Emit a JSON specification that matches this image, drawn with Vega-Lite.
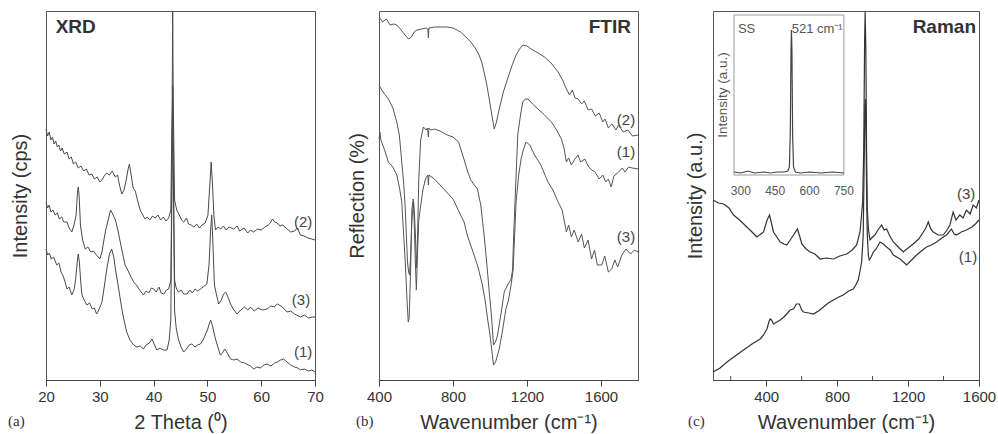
{
  "$schema": "https://vega.github.io/schema/vega-lite/v6.json",
  "padding": {"left": 7, "top": 9, "right": 0, "bottom": 0},
  "background": "white",
  "config": {
    "view": {"stroke": "#555", "strokeWidth": 1},
    "axis": {"labelFont": "Liberation Sans", "titleFont": "Liberation Sans", "labelFontSize": 15, "titleFontSize": 20, "titleFontWeight": "normal", "labelColor": "#333", "titleColor": "#333", "domainColor": "#444", "tickColor": "#444", "grid": false, "labelFlush": false, "labelOverlap": false, "format": "d"},
    "text": {"font": "Liberation Sans", "color": "#333"},
    "line": {"strokeWidth": 1}
  },
  "datasets": {
    "xrd": [
      {"s":"2","x":20.0,"v":251},{"s":"2","x":20.3,"v":244},{"s":"2","x":20.6,"v":248},{"s":"2","x":20.9,"v":240},{"s":"2","x":21.2,"v":243},{"s":"2","x":21.5,"v":236},{"s":"2","x":21.8,"v":239},{"s":"2","x":22.1,"v":233},{"s":"2","x":22.4,"v":235},{"s":"2","x":22.7,"v":229},{"s":"2","x":23.0,"v":232},{"s":"2","x":23.4,"v":226},{"s":"2","x":23.9,"v":228},{"s":"2","x":24.3,"v":221},{"s":"2","x":24.7,"v":223},{"s":"2","x":25.1,"v":216},{"s":"2","x":25.5,"v":218},{"s":"2","x":26.0,"v":212},{"s":"2","x":26.5,"v":214},{"s":"2","x":27.0,"v":209},{"s":"2","x":27.5,"v":211},{"s":"2","x":28.0,"v":205},{"s":"2","x":28.5,"v":206},{"s":"2","x":29.0,"v":201},{"s":"2","x":29.5,"v":203},{"s":"2","x":30.0,"v":198},{"s":"2","x":30.4,"v":200},{"s":"2","x":30.8,"v":204},{"s":"2","x":31.3,"v":207},{"s":"2","x":31.8,"v":205},{"s":"2","x":32.3,"v":209},{"s":"2","x":32.9,"v":203},{"s":"2","x":33.3,"v":205},{"s":"2","x":33.7,"v":194},{"s":"2","x":34.1,"v":186},{"s":"2","x":34.5,"v":190},{"s":"2","x":34.9,"v":200},{"s":"2","x":35.3,"v":212},{"s":"2","x":35.5,"v":216},{"s":"2","x":35.8,"v":206},{"s":"2","x":36.2,"v":192},{"s":"2","x":36.6,"v":189},{"s":"2","x":37.0,"v":180},{"s":"2","x":37.5,"v":170},{"s":"2","x":38.0,"v":165},{"s":"2","x":38.4,"v":161},{"s":"2","x":38.8,"v":163},{"s":"2","x":39.3,"v":160},{"s":"2","x":39.8,"v":164},{"s":"2","x":40.3,"v":162},{"s":"2","x":40.8,"v":165},{"s":"2","x":41.3,"v":160},{"s":"2","x":41.8,"v":163},{"s":"2","x":42.3,"v":159},{"s":"2","x":42.8,"v":162},{"s":"2","x":43.2,"v":170},{"s":"2","x":43.45,"v":280},{"s":"2","x":43.55,"v":368},{"s":"2","x":43.65,"v":280},{"s":"2","x":43.9,"v":180},{"s":"2","x":44.3,"v":170},{"s":"2","x":44.7,"v":166},{"s":"2","x":45.2,"v":160},{"s":"2","x":45.6,"v":158},{"s":"2","x":46.1,"v":162},{"s":"2","x":46.5,"v":156},{"s":"2","x":47.0,"v":155},{"s":"2","x":47.5,"v":153},{"s":"2","x":48.0,"v":156},{"s":"2","x":48.5,"v":152},{"s":"2","x":49.0,"v":155},{"s":"2","x":49.6,"v":157},{"s":"2","x":50.1,"v":165},{"s":"2","x":50.45,"v":195},{"s":"2","x":50.7,"v":218},{"s":"2","x":50.95,"v":195},{"s":"2","x":51.2,"v":165},{"s":"2","x":51.5,"v":150},{"s":"2","x":52.0,"v":153},{"s":"2","x":52.5,"v":151},{"s":"2","x":53.0,"v":154},{"s":"2","x":53.5,"v":150},{"s":"2","x":54.0,"v":153},{"s":"2","x":54.9,"v":151},{"s":"2","x":55.5,"v":154},{"s":"2","x":56.0,"v":149},{"s":"2","x":56.8,"v":152},{"s":"2","x":57.5,"v":147},{"s":"2","x":58.0,"v":150},{"s":"2","x":58.6,"v":148},{"s":"2","x":59.3,"v":151},{"s":"2","x":60.0,"v":150},{"s":"2","x":60.7,"v":153},{"s":"2","x":61.3,"v":155},{"s":"2","x":61.7,"v":157},{"s":"2","x":62.1,"v":161},{"s":"2","x":62.5,"v":158},{"s":"2","x":63.0,"v":157},{"s":"2","x":63.5,"v":154},{"s":"2","x":64.0,"v":155},{"s":"2","x":64.8,"v":151},{"s":"2","x":65.5,"v":148},{"s":"2","x":66.2,"v":149},{"s":"2","x":66.7,"v":152},{"s":"2","x":67.3,"v":145},{"s":"2","x":68.0,"v":144},{"s":"2","x":68.7,"v":142},{"s":"2","x":69.4,"v":141},{"s":"2","x":70.0,"v":140},
      {"s":"3","x":20.0,"v":178},{"s":"3","x":20.3,"v":172},{"s":"3","x":20.6,"v":175},{"s":"3","x":20.9,"v":168},{"s":"3","x":21.3,"v":170},{"s":"3","x":21.7,"v":165},{"s":"3","x":22.1,"v":167},{"s":"3","x":22.5,"v":161},{"s":"3","x":22.9,"v":163},{"s":"3","x":23.3,"v":158},{"s":"3","x":23.9,"v":158},{"s":"3","x":24.3,"v":152},{"s":"3","x":24.8,"v":148},{"s":"3","x":25.2,"v":155},{"s":"3","x":25.6,"v":165},{"s":"3","x":25.85,"v":188},{"s":"3","x":26.0,"v":193},{"s":"3","x":26.15,"v":185},{"s":"3","x":26.4,"v":155},{"s":"3","x":26.8,"v":140},{"s":"3","x":27.3,"v":131},{"s":"3","x":27.8,"v":133},{"s":"3","x":28.3,"v":128},{"s":"3","x":28.8,"v":129},{"s":"3","x":29.4,"v":125},{"s":"3","x":30.0,"v":121},{"s":"3","x":30.4,"v":128},{"s":"3","x":30.7,"v":138},{"s":"3","x":31.1,"v":150},{"s":"3","x":31.6,"v":161},{"s":"3","x":32.0,"v":170},{"s":"3","x":32.4,"v":166},{"s":"3","x":32.9,"v":160},{"s":"3","x":33.4,"v":149},{"s":"3","x":33.8,"v":138},{"s":"3","x":34.3,"v":125},{"s":"3","x":34.7,"v":115},{"s":"3","x":35.2,"v":110},{"s":"3","x":35.8,"v":103},{"s":"3","x":36.3,"v":98},{"s":"3","x":36.8,"v":95},{"s":"3","x":37.4,"v":90},{"s":"3","x":38.1,"v":85},{"s":"3","x":38.6,"v":89},{"s":"3","x":39.1,"v":87},{"s":"3","x":39.6,"v":92},{"s":"3","x":40.0,"v":91},{"s":"3","x":40.5,"v":88},{"s":"3","x":41.0,"v":93},{"s":"3","x":41.4,"v":87},{"s":"3","x":41.9,"v":86},{"s":"3","x":42.4,"v":90},{"s":"3","x":42.8,"v":91},{"s":"3","x":43.2,"v":100},{"s":"3","x":43.45,"v":230},{"s":"3","x":43.55,"v":295},{"s":"3","x":43.65,"v":220},{"s":"3","x":43.9,"v":100},{"s":"3","x":44.2,"v":92},{"s":"3","x":44.6,"v":88},{"s":"3","x":45.1,"v":90},{"s":"3","x":45.6,"v":86},{"s":"3","x":46.2,"v":86},{"s":"3","x":46.7,"v":90},{"s":"3","x":47.2,"v":87},{"s":"3","x":47.7,"v":91},{"s":"3","x":48.2,"v":89},{"s":"3","x":48.7,"v":91},{"s":"3","x":49.2,"v":93},{"s":"3","x":49.9,"v":96},{"s":"3","x":50.3,"v":115},{"s":"3","x":50.6,"v":150},{"s":"3","x":50.8,"v":165},{"s":"3","x":51.0,"v":140},{"s":"3","x":51.3,"v":95},{"s":"3","x":51.7,"v":85},{"s":"3","x":52.1,"v":76},{"s":"3","x":52.6,"v":80},{"s":"3","x":53.0,"v":86},{"s":"3","x":53.4,"v":88},{"s":"3","x":53.9,"v":82},{"s":"3","x":54.3,"v":76},{"s":"3","x":54.8,"v":71},{"s":"3","x":55.5,"v":66},{"s":"3","x":56.2,"v":70},{"s":"3","x":56.9,"v":73},{"s":"3","x":57.5,"v":70},{"s":"3","x":58.0,"v":73},{"s":"3","x":58.7,"v":69},{"s":"3","x":59.4,"v":72},{"s":"3","x":60.2,"v":70},{"s":"3","x":61.1,"v":71},{"s":"3","x":61.8,"v":74},{"s":"3","x":62.4,"v":73},{"s":"3","x":63.0,"v":76},{"s":"3","x":63.7,"v":74},{"s":"3","x":64.3,"v":71},{"s":"3","x":64.8,"v":68},{"s":"3","x":65.5,"v":69},{"s":"3","x":66.2,"v":66},{"s":"3","x":67.3,"v":63},{"s":"3","x":68.0,"v":65},{"s":"3","x":68.8,"v":62},{"s":"3","x":69.5,"v":63},{"s":"3","x":70.0,"v":63},
      {"s":"1","x":20.0,"v":131},{"s":"1","x":20.3,"v":125},{"s":"1","x":20.6,"v":127},{"s":"1","x":21.0,"v":121},{"s":"1","x":21.4,"v":123},{"s":"1","x":22.0,"v":115},{"s":"1","x":22.4,"v":117},{"s":"1","x":22.8,"v":108},{"s":"1","x":23.2,"v":104},{"s":"1","x":23.6,"v":97},{"s":"1","x":23.9,"v":91},{"s":"1","x":24.3,"v":93},{"s":"1","x":24.8,"v":85},{"s":"1","x":25.2,"v":90},{"s":"1","x":25.5,"v":100},{"s":"1","x":25.8,"v":118},{"s":"1","x":26.0,"v":126},{"s":"1","x":26.2,"v":118},{"s":"1","x":26.5,"v":95},{"s":"1","x":26.7,"v":85},{"s":"1","x":27.1,"v":80},{"s":"1","x":27.6,"v":75},{"s":"1","x":28.1,"v":77},{"s":"1","x":28.6,"v":71},{"s":"1","x":29.0,"v":72},{"s":"1","x":29.4,"v":66},{"s":"1","x":29.8,"v":70},{"s":"1","x":30.4,"v":78},{"s":"1","x":30.8,"v":92},{"s":"1","x":31.3,"v":111},{"s":"1","x":31.8,"v":126},{"s":"1","x":32.2,"v":131},{"s":"1","x":32.6,"v":123},{"s":"1","x":32.9,"v":111},{"s":"1","x":33.4,"v":95},{"s":"1","x":33.8,"v":81},{"s":"1","x":34.3,"v":65},{"s":"1","x":35.0,"v":48},{"s":"1","x":35.6,"v":40},{"s":"1","x":36.3,"v":35},{"s":"1","x":36.9,"v":33},{"s":"1","x":37.5,"v":34},{"s":"1","x":38.1,"v":31},{"s":"1","x":38.6,"v":35},{"s":"1","x":39.2,"v":37},{"s":"1","x":39.7,"v":41},{"s":"1","x":40.1,"v":36},{"s":"1","x":40.6,"v":30},{"s":"1","x":41.2,"v":32},{"s":"1","x":41.8,"v":30},{"s":"1","x":42.5,"v":30},{"s":"1","x":42.9,"v":40},{"s":"1","x":43.2,"v":60},{"s":"1","x":43.45,"v":220},{"s":"1","x":43.55,"v":278},{"s":"1","x":43.65,"v":220},{"s":"1","x":43.9,"v":70},{"s":"1","x":44.2,"v":52},{"s":"1","x":44.6,"v":41},{"s":"1","x":45.1,"v":33},{"s":"1","x":45.6,"v":28},{"s":"1","x":46.1,"v":31},{"s":"1","x":46.6,"v":35},{"s":"1","x":47.1,"v":36},{"s":"1","x":47.7,"v":33},{"s":"1","x":48.2,"v":35},{"s":"1","x":48.7,"v":36},{"s":"1","x":49.2,"v":40},{"s":"1","x":49.6,"v":45},{"s":"1","x":50.0,"v":50},{"s":"1","x":50.4,"v":57},{"s":"1","x":50.6,"v":60},{"s":"1","x":50.9,"v":55},{"s":"1","x":51.2,"v":48},{"s":"1","x":51.5,"v":41},{"s":"1","x":52.0,"v":32},{"s":"1","x":52.4,"v":25},{"s":"1","x":52.8,"v":27},{"s":"1","x":53.2,"v":31},{"s":"1","x":53.6,"v":28},{"s":"1","x":54.0,"v":24},{"s":"1","x":54.3,"v":21},{"s":"1","x":54.9,"v":20},{"s":"1","x":55.5,"v":21},{"s":"1","x":56.2,"v":18},{"s":"1","x":56.9,"v":17},{"s":"1","x":57.6,"v":15},{"s":"1","x":58.0,"v":14},{"s":"1","x":58.6,"v":11},{"s":"1","x":59.2,"v":13},{"s":"1","x":59.8,"v":12},{"s":"1","x":60.5,"v":15},{"s":"1","x":61.1,"v":16},{"s":"1","x":61.8,"v":14},{"s":"1","x":62.5,"v":17},{"s":"1","x":63.0,"v":18},{"s":"1","x":63.6,"v":20},{"s":"1","x":64.2,"v":21},{"s":"1","x":64.8,"v":18},{"s":"1","x":65.5,"v":15},{"s":"1","x":66.2,"v":13},{"s":"1","x":66.8,"v":12},{"s":"1","x":67.3,"v":10},{"s":"1","x":68.0,"v":11},{"s":"1","x":68.8,"v":9},{"s":"1","x":69.4,"v":10},{"s":"1","x":70.0,"v":8}
    ],
    "ftir": [
      {"s":"2","x":400,"v":363},{"s":"2","x":420,"v":358},{"s":"2","x":440,"v":361},{"s":"2","x":460,"v":355},{"s":"2","x":480,"v":356},{"s":"2","x":496,"v":355},{"s":"2","x":520,"v":350},{"s":"2","x":545,"v":344},{"s":"2","x":560,"v":341},{"s":"2","x":575,"v":343},{"s":"2","x":590,"v":348},{"s":"2","x":605,"v":350},{"s":"2","x":630,"v":351},{"s":"2","x":655,"v":352},{"s":"2","x":664,"v":351},{"s":"2","x":667,"v":342},{"s":"2","x":670,"v":352},{"s":"2","x":700,"v":353},{"s":"2","x":740,"v":353},{"s":"2","x":769,"v":353},{"s":"2","x":800,"v":352},{"s":"2","x":841,"v":348},{"s":"2","x":870,"v":343},{"s":"2","x":896,"v":338},{"s":"2","x":920,"v":332},{"s":"2","x":941,"v":325},{"s":"2","x":955,"v":318},{"s":"2","x":968,"v":308},{"s":"2","x":982,"v":296},{"s":"2","x":996,"v":281},{"s":"2","x":1010,"v":265},{"s":"2","x":1023,"v":251},{"s":"2","x":1035,"v":258},{"s":"2","x":1050,"v":271},{"s":"2","x":1072,"v":288},{"s":"2","x":1095,"v":301},{"s":"2","x":1118,"v":314},{"s":"2","x":1141,"v":325},{"s":"2","x":1160,"v":331},{"s":"2","x":1177,"v":335},{"s":"2","x":1200,"v":334},{"s":"2","x":1223,"v":331},{"s":"2","x":1260,"v":327},{"s":"2","x":1295,"v":323},{"s":"2","x":1330,"v":317},{"s":"2","x":1368,"v":308},{"s":"2","x":1395,"v":299},{"s":"2","x":1413,"v":291},{"s":"2","x":1430,"v":285},{"s":"2","x":1445,"v":290},{"s":"2","x":1460,"v":282},{"s":"2","x":1477,"v":281},{"s":"2","x":1495,"v":276},{"s":"2","x":1510,"v":279},{"s":"2","x":1530,"v":270},{"s":"2","x":1549,"v":271},{"s":"2","x":1570,"v":264},{"s":"2","x":1590,"v":267},{"s":"2","x":1610,"v":258},{"s":"2","x":1622,"v":261},{"s":"2","x":1640,"v":252},{"s":"2","x":1660,"v":256},{"s":"2","x":1680,"v":250},{"s":"2","x":1695,"v":255},{"s":"2","x":1720,"v":248},{"s":"2","x":1745,"v":250},{"s":"2","x":1770,"v":244},{"s":"2","x":1800,"v":245},
      {"s":"1","x":400,"v":295},{"s":"1","x":415,"v":290},{"s":"1","x":430,"v":286},{"s":"1","x":451,"v":281},{"s":"1","x":475,"v":272},{"s":"1","x":496,"v":258},{"s":"1","x":510,"v":245},{"s":"1","x":523,"v":218},{"s":"1","x":533,"v":198},{"s":"1","x":542,"v":171},{"s":"1","x":548,"v":145},{"s":"1","x":554,"v":118},{"s":"1","x":560,"v":108},{"s":"1","x":565,"v":105},{"s":"1","x":571,"v":125},{"s":"1","x":578,"v":161},{"s":"1","x":583,"v":170},{"s":"1","x":587,"v":178},{"s":"1","x":592,"v":165},{"s":"1","x":598,"v":140},{"s":"1","x":602,"v":112},{"s":"1","x":608,"v":140},{"s":"1","x":615,"v":200},{"s":"1","x":625,"v":240},{"s":"1","x":640,"v":253},{"s":"1","x":655,"v":250},{"s":"1","x":662,"v":252},{"s":"1","x":667,"v":243},{"s":"1","x":670,"v":252},{"s":"1","x":680,"v":250},{"s":"1","x":700,"v":251},{"s":"1","x":730,"v":249},{"s":"1","x":769,"v":245},{"s":"1","x":800,"v":243},{"s":"1","x":830,"v":238},{"s":"1","x":859,"v":221},{"s":"1","x":880,"v":208},{"s":"1","x":896,"v":200},{"s":"1","x":915,"v":195},{"s":"1","x":932,"v":191},{"s":"1","x":950,"v":175},{"s":"1","x":968,"v":145},{"s":"1","x":982,"v":118},{"s":"1","x":996,"v":88},{"s":"1","x":1008,"v":64},{"s":"1","x":1019,"v":35},{"s":"1","x":1030,"v":38},{"s":"1","x":1041,"v":45},{"s":"1","x":1060,"v":67},{"s":"1","x":1077,"v":88},{"s":"1","x":1095,"v":95},{"s":"1","x":1114,"v":101},{"s":"1","x":1122,"v":110},{"s":"1","x":1128,"v":145},{"s":"1","x":1140,"v":200},{"s":"1","x":1150,"v":245},{"s":"1","x":1165,"v":265},{"s":"1","x":1177,"v":278},{"s":"1","x":1190,"v":281},{"s":"1","x":1205,"v":281},{"s":"1","x":1230,"v":276},{"s":"1","x":1259,"v":271},{"s":"1","x":1295,"v":265},{"s":"1","x":1332,"v":258},{"s":"1","x":1360,"v":250},{"s":"1","x":1386,"v":241},{"s":"1","x":1400,"v":232},{"s":"1","x":1413,"v":218},{"s":"1","x":1425,"v":222},{"s":"1","x":1440,"v":215},{"s":"1","x":1459,"v":221},{"s":"1","x":1475,"v":225},{"s":"1","x":1490,"v":218},{"s":"1","x":1513,"v":221},{"s":"1","x":1530,"v":214},{"s":"1","x":1550,"v":210},{"s":"1","x":1568,"v":208},{"s":"1","x":1590,"v":201},{"s":"1","x":1610,"v":205},{"s":"1","x":1625,"v":198},{"s":"1","x":1640,"v":201},{"s":"1","x":1655,"v":193},{"s":"1","x":1670,"v":204},{"s":"1","x":1695,"v":208},{"s":"1","x":1715,"v":212},{"s":"1","x":1730,"v":208},{"s":"1","x":1749,"v":213},{"s":"1","x":1770,"v":212},{"s":"1","x":1800,"v":211},
      {"s":"3","x":400,"v":241},{"s":"3","x":405,"v":248},{"s":"3","x":410,"v":240},{"s":"3","x":430,"v":230},{"s":"3","x":451,"v":218},{"s":"3","x":475,"v":213},{"s":"3","x":496,"v":205},{"s":"3","x":510,"v":193},{"s":"3","x":523,"v":178},{"s":"3","x":535,"v":140},{"s":"3","x":542,"v":118},{"s":"3","x":550,"v":85},{"s":"3","x":558,"v":58},{"s":"3","x":563,"v":62},{"s":"3","x":571,"v":110},{"s":"3","x":578,"v":171},{"s":"3","x":585,"v":181},{"s":"3","x":590,"v":160},{"s":"3","x":596,"v":120},{"s":"3","x":602,"v":90},{"s":"3","x":608,"v":125},{"s":"3","x":615,"v":160},{"s":"3","x":623,"v":171},{"s":"3","x":637,"v":190},{"s":"3","x":651,"v":201},{"s":"3","x":664,"v":205},{"s":"3","x":667,"v":195},{"s":"3","x":670,"v":205},{"s":"3","x":700,"v":201},{"s":"3","x":750,"v":191},{"s":"3","x":800,"v":181},{"s":"3","x":841,"v":165},{"s":"3","x":860,"v":158},{"s":"3","x":877,"v":145},{"s":"3","x":895,"v":135},{"s":"3","x":914,"v":125},{"s":"3","x":935,"v":113},{"s":"3","x":959,"v":95},{"s":"3","x":975,"v":78},{"s":"3","x":987,"v":61},{"s":"3","x":1000,"v":45},{"s":"3","x":1019,"v":15},{"s":"3","x":1030,"v":18},{"s":"3","x":1050,"v":31},{"s":"3","x":1068,"v":50},{"s":"3","x":1086,"v":71},{"s":"3","x":1100,"v":80},{"s":"3","x":1114,"v":95},{"s":"3","x":1125,"v":110},{"s":"3","x":1141,"v":178},{"s":"3","x":1155,"v":205},{"s":"3","x":1168,"v":221},{"s":"3","x":1180,"v":230},{"s":"3","x":1195,"v":238},{"s":"3","x":1215,"v":235},{"s":"3","x":1241,"v":225},{"s":"3","x":1275,"v":215},{"s":"3","x":1313,"v":198},{"s":"3","x":1340,"v":190},{"s":"3","x":1368,"v":178},{"s":"3","x":1390,"v":170},{"s":"3","x":1413,"v":148},{"s":"3","x":1425,"v":155},{"s":"3","x":1440,"v":143},{"s":"3","x":1455,"v":150},{"s":"3","x":1477,"v":138},{"s":"3","x":1495,"v":146},{"s":"3","x":1510,"v":132},{"s":"3","x":1530,"v":140},{"s":"3","x":1549,"v":121},{"s":"3","x":1565,"v":130},{"s":"3","x":1580,"v":115},{"s":"3","x":1604,"v":115},{"s":"3","x":1620,"v":124},{"s":"3","x":1640,"v":108},{"s":"3","x":1658,"v":111},{"s":"3","x":1675,"v":120},{"s":"3","x":1690,"v":113},{"s":"3","x":1713,"v":125},{"s":"3","x":1735,"v":131},{"s":"3","x":1760,"v":126},{"s":"3","x":1780,"v":130},{"s":"3","x":1800,"v":128}
    ],
    "raman": [
      {"s":"3","x":100,"v":180},{"s":"3","x":130,"v":177},{"s":"3","x":160,"v":176},{"s":"3","x":190,"v":172},{"s":"3","x":216,"v":165},{"s":"3","x":250,"v":160},{"s":"3","x":291,"v":153},{"s":"3","x":320,"v":148},{"s":"3","x":347,"v":143},{"s":"3","x":370,"v":146},{"s":"3","x":385,"v":148},{"s":"3","x":405,"v":160},{"s":"3","x":419,"v":165},{"s":"3","x":432,"v":155},{"s":"3","x":441,"v":148},{"s":"3","x":460,"v":143},{"s":"3","x":479,"v":138},{"s":"3","x":500,"v":136},{"s":"3","x":516,"v":135},{"s":"3","x":535,"v":140},{"s":"3","x":554,"v":145},{"s":"3","x":576,"v":151},{"s":"3","x":590,"v":143},{"s":"3","x":601,"v":136},{"s":"3","x":625,"v":131},{"s":"3","x":648,"v":128},{"s":"3","x":675,"v":126},{"s":"3","x":704,"v":121},{"s":"3","x":740,"v":122},{"s":"3","x":779,"v":121},{"s":"3","x":815,"v":124},{"s":"3","x":854,"v":126},{"s":"3","x":885,"v":130},{"s":"3","x":910,"v":135},{"s":"3","x":929,"v":148},{"s":"3","x":944,"v":178},{"s":"3","x":950,"v":230},{"s":"3","x":955,"v":340},{"s":"3","x":958,"v":368},{"s":"3","x":962,"v":330},{"s":"3","x":966,"v":230},{"s":"3","x":970,"v":171},{"s":"3","x":977,"v":150},{"s":"3","x":985,"v":140},{"s":"3","x":1000,"v":143},{"s":"3","x":1013,"v":145},{"s":"3","x":1030,"v":150},{"s":"3","x":1051,"v":155},{"s":"3","x":1065,"v":150},{"s":"3","x":1079,"v":151},{"s":"3","x":1100,"v":143},{"s":"3","x":1117,"v":138},{"s":"3","x":1145,"v":133},{"s":"3","x":1173,"v":128},{"s":"3","x":1200,"v":132},{"s":"3","x":1229,"v":136},{"s":"3","x":1260,"v":141},{"s":"3","x":1286,"v":148},{"s":"3","x":1300,"v":152},{"s":"3","x":1314,"v":158},{"s":"3","x":1328,"v":151},{"s":"3","x":1342,"v":148},{"s":"3","x":1370,"v":145},{"s":"3","x":1398,"v":145},{"s":"3","x":1420,"v":150},{"s":"3","x":1436,"v":155},{"s":"3","x":1454,"v":168},{"s":"3","x":1470,"v":160},{"s":"3","x":1492,"v":165},{"s":"3","x":1510,"v":162},{"s":"3","x":1529,"v":170},{"s":"3","x":1550,"v":166},{"s":"3","x":1567,"v":175},{"s":"3","x":1585,"v":172},{"s":"3","x":1600,"v":180},
      {"s":"1","x":100,"v":8},{"s":"1","x":140,"v":12},{"s":"1","x":179,"v":18},{"s":"1","x":225,"v":24},{"s":"1","x":272,"v":30},{"s":"1","x":320,"v":36},{"s":"1","x":366,"v":41},{"s":"1","x":385,"v":45},{"s":"1","x":404,"v":51},{"s":"1","x":415,"v":58},{"s":"1","x":422,"v":61},{"s":"1","x":430,"v":60},{"s":"1","x":441,"v":56},{"s":"1","x":460,"v":58},{"s":"1","x":479,"v":60},{"s":"1","x":500,"v":63},{"s":"1","x":516,"v":66},{"s":"1","x":535,"v":70},{"s":"1","x":554,"v":71},{"s":"1","x":570,"v":76},{"s":"1","x":587,"v":76},{"s":"1","x":600,"v":70},{"s":"1","x":610,"v":68},{"s":"1","x":640,"v":67},{"s":"1","x":666,"v":66},{"s":"1","x":695,"v":69},{"s":"1","x":723,"v":73},{"s":"1","x":750,"v":77},{"s":"1","x":779,"v":80},{"s":"1","x":810,"v":83},{"s":"1","x":835,"v":85},{"s":"1","x":865,"v":89},{"s":"1","x":891,"v":91},{"s":"1","x":905,"v":95},{"s":"1","x":919,"v":100},{"s":"1","x":930,"v":110},{"s":"1","x":938,"v":118},{"s":"1","x":944,"v":135},{"s":"1","x":947,"v":145},{"s":"1","x":952,"v":210},{"s":"1","x":956,"v":270},{"s":"1","x":959,"v":281},{"s":"1","x":962,"v":260},{"s":"1","x":966,"v":190},{"s":"1","x":970,"v":145},{"s":"1","x":976,"v":125},{"s":"1","x":981,"v":120},{"s":"1","x":992,"v":123},{"s":"1","x":1004,"v":128},{"s":"1","x":1020,"v":131},{"s":"1","x":1042,"v":138},{"s":"1","x":1060,"v":136},{"s":"1","x":1079,"v":133},{"s":"1","x":1100,"v":130},{"s":"1","x":1117,"v":125},{"s":"1","x":1155,"v":121},{"s":"1","x":1192,"v":115},{"s":"1","x":1220,"v":120},{"s":"1","x":1248,"v":125},{"s":"1","x":1275,"v":129},{"s":"1","x":1304,"v":133},{"s":"1","x":1330,"v":135},{"s":"1","x":1361,"v":138},{"s":"1","x":1390,"v":142},{"s":"1","x":1417,"v":145},{"s":"1","x":1445,"v":151},{"s":"1","x":1460,"v":146},{"s":"1","x":1473,"v":145},{"s":"1","x":1500,"v":148},{"s":"1","x":1529,"v":150},{"s":"1","x":1560,"v":153},{"s":"1","x":1580,"v":156},{"s":"1","x":1600,"v":160}
    ],
    "inset": [
      {"x":270,"v":208},{"x":300,"v":207},{"x":330,"v":209},{"x":360,"v":207},{"x":400,"v":208},{"x":430,"v":207},{"x":460,"v":208},{"x":490,"v":208},{"x":505,"v":209},{"x":512,"v":213},{"x":516,"v":250},{"x":519,"v":330},{"x":521,"v":350},{"x":523,"v":330},{"x":526,"v":245},{"x":530,"v":213},{"x":538,"v":208},{"x":560,"v":207},{"x":600,"v":208},{"x":650,"v":207},{"x":700,"v":208},{"x":750,"v":207}
    ]
  },
  "bounds": "flush",
  "spacing": 64,
  "hconcat": [
    {
      "width": 269, "height": 369,
      "title": {"text": "(a)", "orient": "bottom", "anchor": "start", "frame": "group", "dx": -38, "offset": -18, "font": "Liberation Serif", "fontSize": 15, "fontWeight": "normal", "color": "#333"},
      "layer": [
        {
          "data": {"name": "xrd"},
          "mark": {"type": "line", "color": "#4a4a4a", "strokeWidth": 1},
          "encoding": {
            "x": {"field": "x", "type": "quantitative", "scale": {"domain": [20, 70], "nice": false, "zero": false},
              "axis": {"title": "2 Theta (⁰)", "values": [20,25,30,35,40,45,50,55,60,65,70], "labelExpr": "datum.value % 10 === 0 ? datum.label : ''", "tickSize": {"condition": {"test": "datum.value % 10 === 0", "value": 6}, "value": 3}, "labelPadding": 3, "titlePadding": 8}},
            "y": {"field": "v", "type": "quantitative", "scale": {"domain": [0, 369], "nice": false},
              "axis": {"title": "Intensity (cps)", "ticks": false, "labels": false, "domain": false, "titlePadding": 16}},
            "detail": {"field": "s"}
          }
        },
        {
          "data": {"values": [{"t": "(2)", "x": 67.8, "v": 158}, {"t": "(3)", "x": 67.4, "v": 80}, {"t": "(1)", "x": 67.8, "v": 28}]},
          "mark": {"type": "text", "fontSize": 15, "color": "#444", "baseline": "middle"},
          "encoding": {"x": {"field": "x", "type": "quantitative"}, "y": {"field": "v", "type": "quantitative"}, "text": {"field": "t"}}
        },
        {
          "data": {"values": [{"t": "XRD", "x": 21.8, "v": 353}]},
          "mark": {"type": "text", "fontSize": 19, "fontWeight": "bold", "color": "#333", "align": "left", "baseline": "middle"},
          "encoding": {"x": {"field": "x", "type": "quantitative"}, "y": {"field": "v", "type": "quantitative"}, "text": {"field": "t"}}
        }
      ]
    },
    {
      "bounds": "flush",
      "spacing": 75,
      "hconcat": [
        {
          "width": 259, "height": 369,
          "title": {"text": "(b)", "orient": "bottom", "anchor": "start", "frame": "group", "dx": -23, "offset": -18, "font": "Liberation Serif", "fontSize": 15, "fontWeight": "normal", "color": "#333"},
          "layer": [
            {
              "data": {"name": "ftir"},
              "mark": {"type": "line", "color": "#555", "strokeWidth": 1},
              "encoding": {
                "x": {"field": "x", "type": "quantitative", "scale": {"domain": [400, 1800], "nice": false, "zero": false},
                  "axis": {"title": "Wavenumber (cm⁻¹)", "values": [400,600,800,1000,1200,1400,1600,1800], "labelExpr": "datum.value % 400 === 0 ? datum.label : ''", "tickSize": {"condition": {"test": "datum.value % 400 === 0", "value": 6}, "value": 3}, "labelPadding": 3, "titlePadding": 8}},
                "y": {"field": "v", "type": "quantitative", "scale": {"domain": [0, 369], "nice": false},
                  "axis": {"title": "Reflection (%)", "ticks": false, "labels": false, "domain": false, "titlePadding": 12}},
                "detail": {"field": "s"}
              }
            },
            {
              "data": {"values": [{"t": "(2)", "x": 1735, "v": 260}, {"t": "(1)", "x": 1735, "v": 228}, {"t": "(3)", "x": 1735, "v": 143}]},
              "mark": {"type": "text", "fontSize": 15, "color": "#444", "baseline": "middle"},
              "encoding": {"x": {"field": "x", "type": "quantitative"}, "y": {"field": "v", "type": "quantitative"}, "text": {"field": "t"}}
            },
            {
              "data": {"values": [{"t": "FTIR", "x": 1762, "v": 353}]},
              "mark": {"type": "text", "fontSize": 19, "fontWeight": "bold", "color": "#333", "align": "right", "baseline": "middle"},
              "encoding": {"x": {"field": "x", "type": "quantitative"}, "y": {"field": "v", "type": "quantitative"}, "text": {"field": "t"}}
            }
          ]
        },
        {
          "width": 266, "height": 369,
          "title": {"text": "(c)", "orient": "bottom", "anchor": "start", "frame": "group", "dx": -25, "offset": -18, "font": "Liberation Serif", "fontSize": 15, "fontWeight": "normal", "color": "#333"},
          "resolve": {"scale": {"x": "independent"}, "axis": {"x": "independent"}},
          "layer": [
            {
              "layer": [
                {
                  "data": {"name": "raman"},
                  "mark": {"type": "line", "color": "#333", "strokeWidth": 1.2},
                  "encoding": {
                    "x": {"field": "x", "type": "quantitative", "scale": {"domain": [100, 1600], "nice": false, "zero": false},
                      "axis": {"title": "Wavenumber (cm⁻¹)", "values": [400,800,1200,1600], "tickSize": 6, "labelPadding": 3, "titlePadding": 8}},
                    "y": {"field": "v", "type": "quantitative", "scale": {"domain": [0, 369], "nice": false},
                      "axis": {"title": "Intensity (a.u.)", "ticks": false, "labels": false, "domain": false, "titlePadding": 8}},
                    "detail": {"field": "s"}
                  }
                },
                {
                  "data": {"values": [{"x": 200}, {"x": 600}, {"x": 1000}, {"x": 1400}]},
                  "mark": {"type": "rule", "color": "#444", "strokeWidth": 1},
                  "encoding": {"x": {"field": "x", "type": "quantitative"}, "y": {"datum": 0, "type": "quantitative"}, "y2": {"datum": 4}}
                },
                {
                  "data": {"values": [{"t": "(3)", "x": 1527, "v": 186}, {"t": "(1)", "x": 1538, "v": 123}]},
                  "mark": {"type": "text", "fontSize": 15, "color": "#444", "baseline": "middle"},
                  "encoding": {"x": {"field": "x", "type": "quantitative"}, "y": {"field": "v", "type": "quantitative"}, "text": {"field": "t"}}
                },
                {
                  "data": {"values": [{"t": "Raman", "x": 1583, "v": 353}]},
                  "mark": {"type": "text", "fontSize": 19, "fontWeight": "bold", "color": "#333", "align": "right", "baseline": "middle"},
                  "encoding": {"x": {"field": "x", "type": "quantitative"}, "y": {"field": "v", "type": "quantitative"}, "text": {"field": "t"}}
                }
              ]
            },
            {
              "layer": [
                {
                  "data": {"values": [{"x": 270, "x2": 750, "v": 205, "v2": 365}]},
                  "mark": {"type": "rect", "fill": "white", "stroke": "#999", "strokeWidth": 1},
                  "encoding": {
                    "x": {"field": "x", "type": "quantitative", "scale": {"domain": [178.3, 1340], "nice": false, "zero": false}, "axis": null},
                    "x2": {"field": "x2"},
                    "y": {"field": "v", "type": "quantitative"},
                    "y2": {"field": "v2"}
                  }
                },
                {
                  "data": {"name": "inset"},
                  "mark": {"type": "line", "color": "#444", "strokeWidth": 1.2},
                  "encoding": {
                    "x": {"field": "x", "type": "quantitative", "scale": {"domain": [178.3, 1340], "nice": false, "zero": false}, "axis": null},
                    "y": {"field": "v", "type": "quantitative"}
                  }
                },
                {
                  "data": {"values": [{"t": "300", "x": 300, "v": 189}, {"t": "450", "x": 450, "v": 189}, {"t": "600", "x": 600, "v": 189}, {"t": "750", "x": 750, "v": 189}]},
                  "mark": {"type": "text", "fontSize": 12, "color": "#555", "baseline": "middle"},
                  "encoding": {
                    "x": {"field": "x", "type": "quantitative", "scale": {"domain": [178.3, 1340], "nice": false, "zero": false}, "axis": null},
                    "y": {"field": "v", "type": "quantitative"},
                    "text": {"field": "t"}
                  }
                },
                {
                  "data": {"values": [{"t": "Intensity (a.u.)", "x": 222, "v": 285}]},
                  "mark": {"type": "text", "fontSize": 13.5, "color": "#555", "angle": 270, "align": "center", "baseline": "middle"},
                  "encoding": {
                    "x": {"field": "x", "type": "quantitative", "scale": {"domain": [178.3, 1340], "nice": false, "zero": false}, "axis": null},
                    "y": {"field": "v", "type": "quantitative"},
                    "text": {"field": "t"}
                  }
                },
                {
                  "data": {"values": [{"t": "SS", "x": 287, "v": 351}, {"t": "521 cm⁻¹", "x": 522, "v": 351}]},
                  "mark": {"type": "text", "fontSize": 13, "color": "#555", "align": "left", "baseline": "middle"},
                  "encoding": {
                    "x": {"field": "x", "type": "quantitative", "scale": {"domain": [178.3, 1340], "nice": false, "zero": false}, "axis": null},
                    "y": {"field": "v", "type": "quantitative"},
                    "text": {"field": "t"}
                  }
                }
              ]
            }
          ]
        }
      ]
    }
  ]
}
